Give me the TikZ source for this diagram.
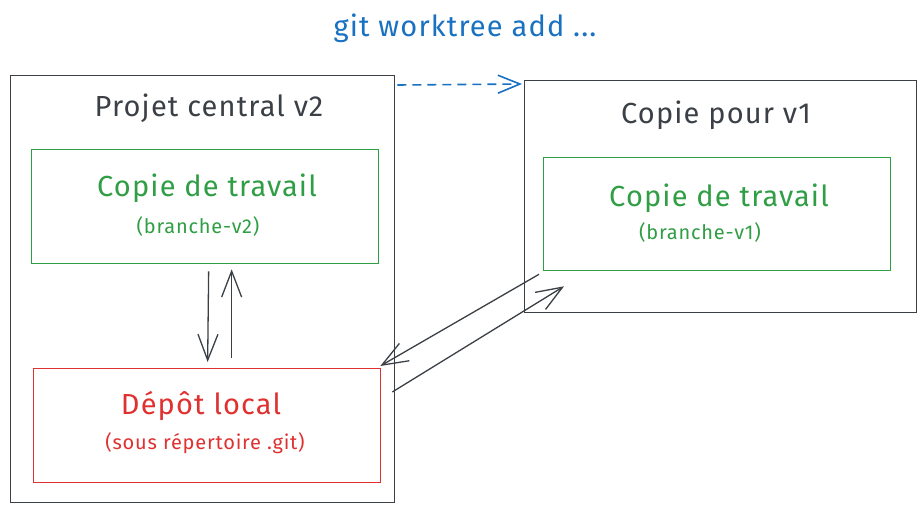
\documentclass[tikz,border=0pt]{standalone}
\usepackage{fontspec}
\setmainfont{Fira Sans}[LetterSpace=4]
\usetikzlibrary{arrows.meta}
\definecolor{ink}{HTML}{3B4046}
\definecolor{grn}{HTML}{2F9E44}
\definecolor{rd}{HTML}{E03131}
\definecolor{blu}{HTML}{1971C2}
\tikzset{
  frame/.style={draw=ink, line width=1.3pt, inner sep=0pt, anchor=north west},
  gbox/.style={draw=grn, line width=1.3pt, inner sep=0pt, anchor=north west},
  rbox/.style={draw=rd, line width=1.3pt, inner sep=0pt, anchor=north west},
  big/.style={font=\fontsize{29}{34}\selectfont, inner sep=0pt},
  small/.style={font=\fontsize{20}{24}\selectfont, inner sep=0pt},
  arr/.style={draw=ink, line width=1.3pt, -{Straight Barb[length=26pt,width=20pt,line width=1.3pt]}},
  dasharr/.style={draw=blu, line width=1.6pt, dash pattern=on 9pt off 6pt, -{Straight Barb[length=22pt,width=18pt,line width=1.6pt]}}
}
\begin{document}
\begin{tikzpicture}[x=1pt,y=-1pt]
\useasboundingbox[fill=white] (0,0) rectangle (919,511);
% boxes
\node[frame, minimum width=384pt, minimum height=427pt] (proj) at (10,75) {};
\node[gbox, minimum width=347pt, minimum height=114pt] (cv2) at (31,149) {};
\node[rbox, minimum width=347pt, minimum height=114pt] (dep) at (33,368) {};
\node[frame, minimum width=392pt, minimum height=232pt] (cop) at (524,80) {};
\node[gbox, minimum width=347pt, minimum height=113pt] (cv1) at (543,157) {};
% texts
\node[big, text=blu] (git) at (465,28) {git worktree add ...};
\node[big, text=ink] (projt) at (209,108) {Projet central v2};
\node[big, text=grn] (cv2t) at (207,188) {Copie de travail};
\node[small, text=grn] (cv2b) at (198,226) {(branche-v2)};
\node[big, text=rd] (dept) at (201,406) {Dépôt local};
\node[small, text=rd] (depb) at (205,443) {(sous répertoire .git)};
\node[big, text=ink] (copt) at (716,115) {Copie pour v1};
\node[big, text=grn] (cv1t) at (719,198) {Copie de travail};
\node[small, text=grn] (cv1b) at (700,232) {(branche-v1)};
% connectors
\draw[dasharr] ([xshift=2pt,yshift=-10pt]proj.north east) -- ([xshift=-2pt,yshift=-4pt]cop.north west);
\draw[arr] ([xshift=3.5pt,yshift=-7pt]cv2.south) -- ([xshift=0.5pt,yshift=6pt]dep.north);
\draw[arr] ([xshift=24.5pt,yshift=10pt]dep.north) -- ([xshift=26.5pt,yshift=-5pt]cv2.south);
\draw[arr] ([xshift=-4pt,yshift=-3pt]cv1.south west) -- ([xshift=-1pt,yshift=2pt]dep.north east);
\draw[arr] ([xshift=11pt,yshift=-24pt]dep.north east) -- ([xshift=21pt,yshift=-15pt]cv1.south west);
\end{tikzpicture}
\end{document}
